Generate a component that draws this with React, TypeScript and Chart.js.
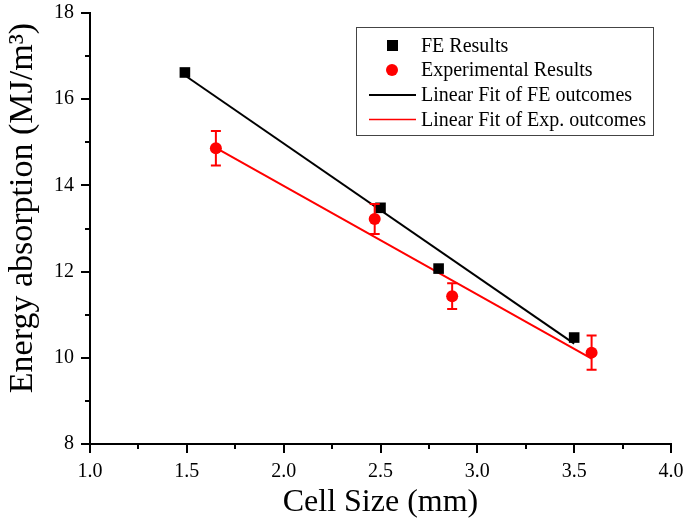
import React, { useEffect, useRef } from "react";
import { Chart, registerables } from "chart.js";

Chart.register(...registerables);

// ---- data ----
const feX = [1.49, 2.5, 2.8, 3.5];
const feY = [16.62, 13.48, 12.07, 10.47];
const expX = [1.65, 2.47, 2.87, 3.59];
const expY = [14.86, 13.22, 11.43, 10.12];
const expErr = [0.4, 0.35, 0.3, 0.4];
const feFitX = [1.5, 3.5];
const feFitY = [16.52, 10.33];
const expFitX = [1.65, 3.59];
const expFitY = [14.87, 9.98];
const xTickLabels = ["1.0", "1.5", "2.0", "2.5", "3.0", "3.5", "4.0"];
const yTickLabels = ["8", "10", "12", "14", "16", "18"];
const seriesLabels = [
  "FE Results",
  "Experimental Results",
  "Linear Fit of FE outcomes",
  "Linear Fit of Exp. outcomes",
];
const xTitle = "Cell Size (mm)";
const yTitle = "Energy absorption (MJ/m³)";

const FONT = "'Liberation Serif', 'Times New Roman', serif";
const RED = "#ff0000";

const pts = (xs: number[], ys: number[]) => xs.map((x, i) => ({ x, y: ys[i] }));

const isMajorX = (v: number) => Math.abs(v * 2 - Math.round(v * 2)) < 1e-6;
const isMajorY = (v: number) => Math.round(v) % 2 === 0;

const decorPlugin = {
  id: "decor",
  afterDatasetsDraw(chart: any) {
    const ctx = chart.ctx;
    const xs = chart.scales.x;
    const ys = chart.scales.y;
    ctx.save();
    ctx.strokeStyle = RED;
    ctx.lineWidth = 2;
    expX.forEach((xv, i) => {
      const px = xs.getPixelForValue(xv);
      const top = ys.getPixelForValue(expY[i] + expErr[i]);
      const bot = ys.getPixelForValue(expY[i] - expErr[i]);
      ctx.beginPath();
      ctx.moveTo(px, top);
      ctx.lineTo(px, bot);
      ctx.moveTo(px - 5, top);
      ctx.lineTo(px + 5, top);
      ctx.moveTo(px - 5, bot);
      ctx.lineTo(px + 5, bot);
      ctx.stroke();
    });
    ctx.restore();
  },
  afterDraw(chart: any) {
    const ctx = chart.ctx;
    const xs = chart.scales.x;
    const ys = chart.scales.y;
    const ca = chart.chartArea;
    ctx.save();
    // ticks
    ctx.strokeStyle = "#000";
    ctx.lineWidth = 2;
    xs.ticks.forEach((t: any) => {
      const px = Math.round(xs.getPixelForValue(t.value));
      const len = isMajorX(t.value) ? 9 : 5;
      ctx.beginPath();
      ctx.moveTo(px, ca.bottom);
      ctx.lineTo(px, ca.bottom + len);
      ctx.stroke();
    });
    ys.ticks.forEach((t: any) => {
      const py = Math.round(ys.getPixelForValue(t.value));
      const len = isMajorY(t.value) ? 9 : 5;
      ctx.beginPath();
      ctx.moveTo(ca.left, py);
      ctx.lineTo(ca.left - len, py);
      ctx.stroke();
    });

    // axis titles
    ctx.fillStyle = "#000";
    ctx.font = `32px ${FONT}`;
    ctx.textAlign = "center";
    ctx.textBaseline = "middle";
    ctx.fillText(xTitle, (ca.left + ca.right) / 2, 503);
    ctx.save();
    ctx.font = `34px ${FONT}`;
    ctx.translate(23, 208);
    ctx.rotate(-Math.PI / 2);
    ctx.fillText(yTitle, 0, 0);
    ctx.restore();

    // legend
    const bx = 356, by = 27, bw = 297, bh = 108;
    ctx.fillStyle = "#fff";
    ctx.fillRect(bx, by, bw, bh);
    ctx.strokeStyle = "#444";
    ctx.lineWidth = 1;
    ctx.strokeRect(bx + 0.5, by + 0.5, bw, bh);
    const rows = [45.5, 70, 95, 119.5];
    ctx.font = `20px ${FONT}`;
    ctx.textAlign = "left";
    ctx.textBaseline = "middle";
    seriesLabels.forEach((lab, i) => {
      const ry = rows[i];
      if (i === 0) {
        ctx.fillStyle = "#000";
        ctx.fillRect(387, ry - 5.5, 11, 11);
      } else if (i === 1) {
        ctx.fillStyle = RED;
        ctx.beginPath();
        ctx.arc(392, ry, 6, 0, Math.PI * 2);
        ctx.fill();
      } else {
        ctx.strokeStyle = i === 2 ? "#000" : RED;
        ctx.lineWidth = i === 2 ? 2 : 1.5;
        ctx.beginPath();
        ctx.moveTo(369, ry);
        ctx.lineTo(416, ry);
        ctx.stroke();
      }
      ctx.fillStyle = "#000";
      ctx.fillText(lab, 421, ry + 1);
    });
    ctx.restore();
  },
};

export default function App() {
  const ref = useRef<HTMLCanvasElement>(null);
  useEffect(() => {
    if (!ref.current) return;
    const chart = new Chart(ref.current, {
      type: "scatter",
      data: {
        datasets: [
          {
            label: seriesLabels[0],
            data: pts(feX, feY),
            pointStyle: "rect",
            pointRadius: 7.5,
            backgroundColor: "#000",
            borderColor: "#000",
            borderWidth: 0,
            showLine: false,
            order: 0,
          },
          {
            label: seriesLabels[1],
            data: pts(expX, expY),
            pointStyle: "circle",
            pointRadius: 6,
            backgroundColor: RED,
            borderColor: RED,
            borderWidth: 0,
            showLine: false,
            order: 1,
          },
          {
            label: seriesLabels[2],
            data: pts(feFitX, feFitY),
            showLine: true,
            borderColor: "#000",
            borderWidth: 2,
            pointRadius: 0,
            order: 2,
          },
          {
            label: seriesLabels[3],
            data: pts(expFitX, expFitY),
            showLine: true,
            borderColor: RED,
            borderWidth: 2,
            pointRadius: 0,
            order: 3,
          },
        ],
      },
      options: {
        responsive: false,
        animation: false,
        events: [],
        layout: { padding: { top: 13, right: 14, left: 0, bottom: 0 } },
        plugins: {
          legend: { display: false },
          tooltip: { enabled: false },
        },
        scales: {
          x: {
            type: "linear",
            min: 1,
            max: 4,
            ticks: {
              stepSize: 0.25,
              autoSkip: false,
              maxRotation: 0,
              padding: 8,
              color: "#000",
              font: { family: FONT, size: 20 },
              callback: (v: any) => {
                const n = Number(v);
                if (!isMajorX(n)) return "";
                const idx = Math.round((n - 1) * 2);
                return xTickLabels[idx] ?? "";
              },
            },
            grid: { display: false },
            border: { display: true, color: "#000", width: 2 },
            afterFit: (s: any) => {
              s.height = 80;
              s.paddingLeft = 0;
              s.paddingRight = 0;
              s.paddingTop = 0;
              s.paddingBottom = 0;
            },
          },
          y: {
            type: "linear",
            min: 8,
            max: 18,
            ticks: {
              stepSize: 1,
              autoSkip: false,
              padding: 8,
              color: "#000",
              font: { family: FONT, size: 20 },
              callback: (v: any) => {
                const n = Number(v);
                if (!isMajorY(n)) return "";
                const idx = Math.round((n - 8) / 2);
                return yTickLabels[idx] ?? "";
              },
            },
            grid: { display: false },
            border: { display: true, color: "#000", width: 2 },
            afterFit: (s: any) => {
              s.width = 90;
              s.paddingLeft = 0;
              s.paddingRight = 0;
              s.paddingTop = 0;
              s.paddingBottom = 0;
            },
          },
        },
      },
      plugins: [decorPlugin],
    } as any);
    return () => chart.destroy();
  }, []);
  return (
    <div style={{ position: "fixed", left: 0, top: 0, width: 685, height: 524, background: "#fff" }}>
      <canvas ref={ref} width={685} height={524} style={{ display: "block" }} />
    </div>
  );
}
